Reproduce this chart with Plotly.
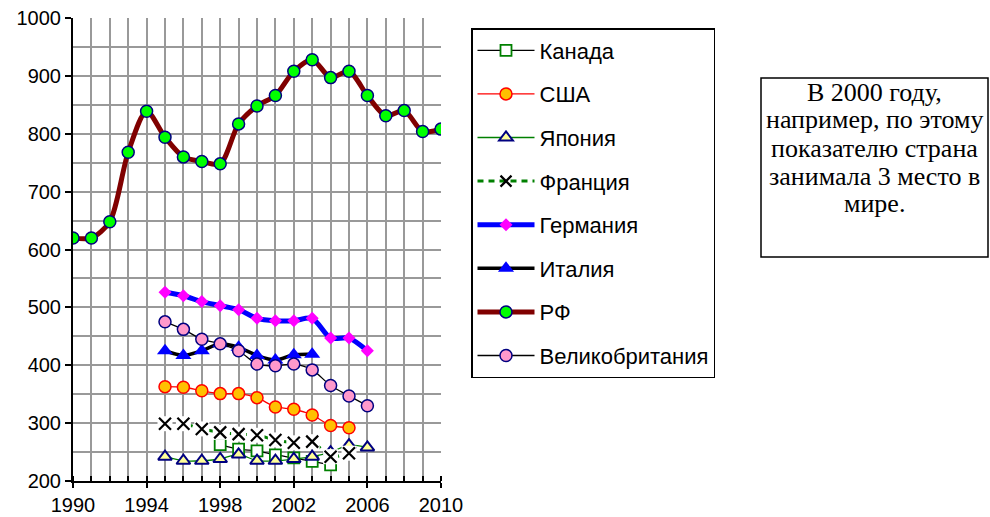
import plotly.graph_objects as go

years_all = list(range(1990, 2011))
years_95 = list(range(1995, 2007))

rf = [620, 620, 648, 768, 839, 794, 760, 752, 748, 817, 848, 866, 908, 928, 897, 908, 866, 831, 840, 804, 808]
germany = [526, 520, 510, 503, 496, 481, 477, 477, 481, 447, 447, 425]
uk = [475, 462, 445, 437, 425, 402, 399, 402, 392, 365, 347, 330]
italy_years = list(range(1995, 2004))
italy = [425, 417, 425, 437, 431, 417, 409, 418, 419]
usa_years = list(range(1995, 2006))
usa = [363, 362, 356, 351, 351, 344, 328, 324, 314, 296, 292]
france_years = list(range(1995, 2006))
france = [299, 299, 290, 284, 281, 279, 271, 266, 268, 242, 248]
japan = [242, 235, 235, 238, 246, 235, 235, 238, 242, 250, 262, 258]
canada_years = list(range(1998, 2005))
canada = [263, 255, 252, 245, 240, 234, 228]

x_labels = {1990: "1990", 1994: "1994", 1998: "1998", 2002: "2002", 2006: "2006", 2010: "2010"}
note_lines = ["В 2000 году,", "например, по этому", "показателю страна", "занимала 3 место в", "мире."]

FONT = "Liberation Sans, Arial, sans-serif"
SERIF = "Liberation Serif, Times New Roman, serif"

# plot-area pixel geometry (for converting box placement into paper fractions)
L, R, T, B = 73, 441, 18, 481
W, H = 990, 517
def px(x):
    return (x - L) / (R - L)
def py(y):
    return (B - y) / (B - T)

fig = go.Figure()

def add(name, x, y, lcolor, lwidth, symbol, msize, mfill, mline, mlw=1.5, dash="solid"):
    fig.add_trace(go.Scatter(
        x=x, y=y, name=name, mode="lines+markers", legendgroup=name,
        line=dict(color=lcolor, width=lwidth, shape="spline", smoothing=0.8, dash=dash),
        marker=dict(symbol=symbol, size=msize, color=mfill, line=dict(color=mline, width=mlw)),
    ))

add("Канада", canada_years, canada, "#000000", 1.3, "square", 11, "#FFFFFF", "#008000", 1.8)
add("США", usa_years, usa, "#FF0000", 1.3, "circle", 12, "#FFC000", "#FF0000")
add("Япония", years_95, japan, "#008000", 1.3, "triangle-up", 12, "#FFFF99", "#000080", 2)
add("Франция", france_years, france, "#008000", 3, "x-thin", 11, "#000000", "#000000", 2.2, dash="6px,5px")
# white backgrounds of the X markers, then the X markers on top
fig.add_trace(go.Scatter(x=france_years, y=france, mode="markers", showlegend=False, legendgroup="Франция",
                         marker=dict(symbol="square", size=15, color="#FFFFFF", line=dict(width=0)), hoverinfo="skip"))
fig.add_trace(go.Scatter(x=france_years, y=france, mode="markers", showlegend=False, legendgroup="Франция",
                         marker=dict(symbol="x-thin", size=12, color="#000000", line=dict(color="#000000", width=2.2))))
add("Германия", years_95, germany, "#0000FF", 5, "diamond", 10, "#FF00FF", "#FF00FF", 0)
add("Италия", italy_years, italy, "#000000", 3.5, "triangle-up", 14, "#0000FF", "#0000FF", 0)
add("РФ", years_all, rf, "#800000", 5, "circle", 12, "#00FF00", "#000080", 1.5)
add("Великобритания", years_95, uk, "#000000", 1.3, "circle", 12, "#FF99CC", "#000080", 1.5)

tickvals = years_all
ticktext = [x_labels.get(y, "") for y in years_all]

# text box: a rectangle plus one annotation per line (tight line spacing)
box_x0, box_x1, box_y0, box_y1 = 761, 988, 78, 257
line_y = [93, 120, 148, 176, 203]
annotations = [dict(xref="paper", yref="paper", x=px((box_x0 + box_x1) / 2), y=py(yy),
                    xanchor="center", yanchor="middle", showarrow=False, text=t,
                    font=dict(family=SERIF, size=26, color="black"))
               for t, yy in zip(note_lines, line_y)]

fig.update_layout(
    width=W, height=H,
    margin=dict(l=L, r=W - R, t=T, b=H - B, autoexpand=False),
    paper_bgcolor="white", plot_bgcolor="white",
    font=dict(family=FONT, size=20, color="black"),
    xaxis=dict(range=[1990, 2010], tickvals=tickvals, ticktext=ticktext,
               showgrid=True, gridcolor="#999999", gridwidth=1.5,
               showline=True, linecolor="black", linewidth=2,
               ticks="outside", ticklen=5, tickwidth=1.5, tickcolor="black",
               minor=dict(tickvals=tickvals, ticks="inside", ticklen=5, tickwidth=1.5, tickcolor="black", showgrid=False),
               zeroline=False, tickfont=dict(size=20)),
    yaxis=dict(range=[200, 1000], dtick=100, tick0=200,
               showgrid=True, gridcolor="#999999", gridwidth=1.5,
               showline=True, linecolor="black", linewidth=2,
               ticks="outside", ticklen=6, tickwidth=1.5, tickcolor="black",
               minor=dict(dtick=50, showgrid=True, gridcolor="#999999", gridwidth=1.5, ticks=""),
               zeroline=False, tickfont=dict(size=20)),
    legend=dict(x=px(471), y=py(28), xanchor="left", yanchor="top",
                bordercolor="black", borderwidth=1.5, bgcolor="white",
                font=dict(family=FONT, size=22), itemwidth=57,
                traceorder="grouped", tracegroupgap=12),
    shapes=[dict(type="rect", xref="paper", yref="paper",
                 x0=px(box_x0), x1=px(box_x1), y0=py(box_y1), y1=py(box_y0),
                 line=dict(color="black", width=1.5), fillcolor="white", layer="below")],
    annotations=annotations,
)

fig.write_html("out.html", config={"displayModeBar": False},
               post_script="document.body.style.margin='0';document.body.style.overflow='hidden';")
